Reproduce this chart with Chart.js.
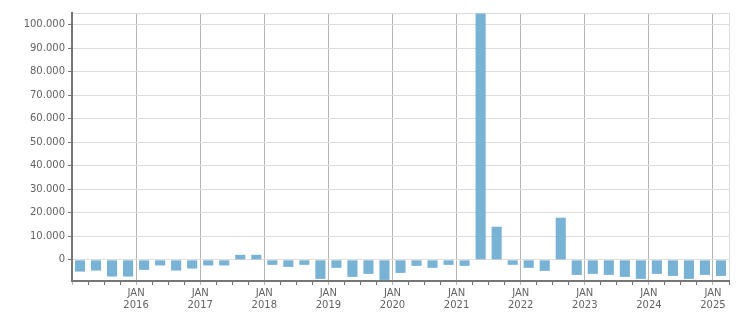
<!DOCTYPE html>
<html>
<head>
<meta charset="utf-8">
<script src="https://cdn.jsdelivr.net/npm/chart.js@4/dist/chart.umd.min.js"></script>
<style>
  html, body { margin: 0; padding: 0; background: #fff; }
  #wrap { width: 751px; height: 313px; }
</style>
</head>
<body>
<div id="wrap"><canvas id="chart" width="751" height="313"></canvas></div>
<script>
// quarters Q1 2015 .. Q1 2025
var quarters = [
  "2015-Q1", "2015-Q2", "2015-Q3", "2015-Q4",
  "2016-Q1", "2016-Q2", "2016-Q3", "2016-Q4",
  "2017-Q1", "2017-Q2", "2017-Q3", "2017-Q4",
  "2018-Q1", "2018-Q2", "2018-Q3", "2018-Q4",
  "2019-Q1", "2019-Q2", "2019-Q3", "2019-Q4",
  "2020-Q1", "2020-Q2", "2020-Q3", "2020-Q4",
  "2021-Q1", "2021-Q2", "2021-Q3", "2021-Q4",
  "2022-Q1", "2022-Q2", "2022-Q3", "2022-Q4",
  "2023-Q1", "2023-Q2", "2023-Q3", "2023-Q4",
  "2024-Q1", "2024-Q2", "2024-Q3", "2024-Q4",
  "2025-Q1"
];
var values = [
  -5000, -4550, -7100, -7100,
  -4270, -2400, -4550, -3700,
  -2400, -2400, 2130, 2130,
  -2130, -3000, -2130, -8100,
  -3400, -7250, -5970, -8530,
  -5550, -2560, -3400, -2130,
  -2560, 104800, 14080, -2130,
  -3400, -4690, 17930, -6400,
  -5970, -6400, -7250, -8100,
  -5970, -6830, -8100, -6400,
  -6830
];
var yTickValues = [0, 10000, 20000, 30000, 40000, 50000, 60000, 70000, 80000, 90000, 100000];
var yMin = -9000, yMax = 105000;
var xMin = 2015, xMax = 2025.25;

function fmt(v) {
  return String(v).replace(/\B(?=(\d{3})+(?!\d))/g, ".");
}

// bar sits in the middle of its quarter
var points = quarters.map(function (q, i) {
  var parts = q.split("-Q");
  return { x: Number(parts[0]) + (Number(parts[1]) - 1) / 4 + 0.125, y: values[i] };
});

var ctx = document.getElementById("chart").getContext("2d");
new Chart(ctx, {
  type: "bar",
  data: {
    datasets: [{
      data: points,
      backgroundColor: "#78b2d5",
      borderWidth: 0,
      barPercentage: 0.63,
      categoryPercentage: 1
    }]
  },
  options: {
    responsive: false,
    animation: false,
    layout: { padding: { top: 13, right: 22, left: 0, bottom: 0 } },
    plugins: { legend: { display: false }, tooltip: { enabled: false } },
    font: { family: "DejaVu Sans", size: 10 },
    scales: {
      x: {
        type: "linear",
        offset: false,
        min: xMin,
        max: xMax,
        afterBuildTicks: function (scale) {
          var t = [];
          for (var v = xMin; v <= xMax + 0.001; v += 0.25) t.push({ value: v });
          scale.ticks = t;
        },
        afterFit: function (scale) { scale.height = 32; },
        border: { color: "#767676", width: 2 },
        grid: {
          offset: false,
          color: function (c) {
            var v = c.tick ? c.tick.value : 0;
            if (v === xMax) return "#dddddd";
            if (Number.isInteger(v) && v > xMin) return "#b4b4b4";
            return "rgba(0,0,0,0)";
          },
          tickColor: function (c) {
            var v = c.tick ? c.tick.value : 0;
            if (Number.isInteger(v)) return "#b4b4b4";
            return "#767676";
          },
          tickLength: 4,
          lineWidth: 1
        },
        ticks: {
          autoSkip: false,
          maxRotation: 0,
          minRotation: 0,
          padding: 2,
          color: "#636363",
          font: { family: "DejaVu Sans", size: 10 },
          callback: function (v) {
            if (Number.isInteger(v) && v > xMin) return ["JAN", String(v)];
            return "";
          }
        }
      },
      y: {
        min: yMin,
        max: yMax,
        afterBuildTicks: function (scale) {
          scale.ticks = yTickValues.map(function (v) { return { value: v }; }).concat([{ value: yMax }]);
        },
        afterFit: function (scale) { scale.width = 72; },
        border: { color: "#767676", width: 2 },
        grid: {
          color: "#dddddd",
          lineWidth: 1,
          tickColor: function (c) {
            return c.tick && c.tick.value === yMax ? "rgba(0,0,0,0)" : "#767676";
          },
          tickLength: 4
        },
        ticks: {
          padding: 3,
          color: "#636363",
          font: { family: "DejaVu Sans", size: 10 },
          callback: function (v) {
            return v === yMax ? "" : fmt(v);
          }
        }
      }
    }
  }
});
</script>
</body>
</html>
